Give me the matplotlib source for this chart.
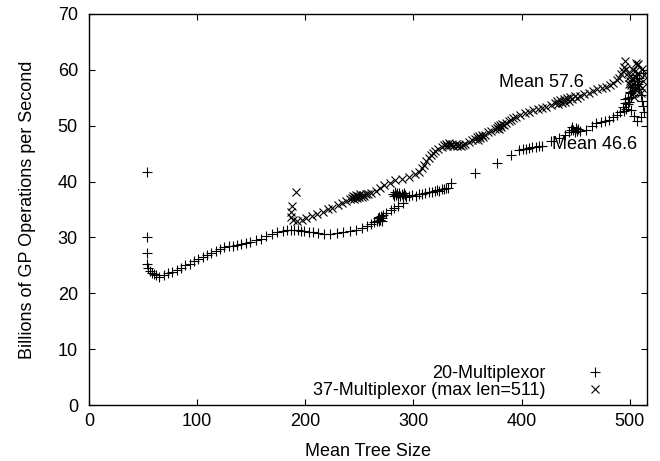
import matplotlib
matplotlib.use("Agg")
import matplotlib.pyplot as plt

plt.rcParams['font.family'] = ['Liberation Sans', 'DejaVu Sans']

# 20-Multiplexor (+) : (mean tree size, billions GP ops/s)
mux20_pts = [
    (54, 41.8), (54, 30.0), (54, 27.3), (54, 25.3), (55, 24.5), (56, 24.0),
    (58, 23.7), (60, 23.5), (62, 23.2), (65, 23.0), (69, 23.2), (73, 23.6),
    (77, 23.9), (81, 24.2), (85, 24.6), (89, 25.0), (93, 25.3), (97, 25.7),
    (101, 26.1), (105, 26.5), (109, 26.9), (113, 27.3), (117, 27.6), (121, 27.9),
    (125, 28.2), (129, 28.4), (133, 28.5), (137, 28.7), (141, 28.9), (145, 29.0),
    (149, 29.2), (154, 29.5), (159, 29.8), (164, 30.2), (169, 30.6), (174, 31.0),
    (179, 31.2), (183, 31.4), (187, 31.4), (190, 31.4), (193, 31.3), (196, 31.2),
    (199, 31.1), (203, 31.0), (207, 30.9), (212, 30.8), (217, 30.7), (223, 30.7),
    (229, 30.8), (235, 31.0), (241, 31.2), (247, 31.4), (252, 31.7), (257, 32.0),
    (261, 32.4), (264, 32.8), (266, 33.0), (267, 33.4), (268, 32.9), (268.5, 33.6),
    (269, 33.2), (270, 33.8), (270.5, 33.0), (271, 33.5), (272, 34.0), (275, 34.4),
    (279, 34.9), (282, 35.3), (286, 35.7), (290, 36.2),
    (281, 37.8), (282, 37.4), (283, 38.2), (284, 37.6), (285, 38.0), (286, 37.5),
    (287, 37.9), (288, 37.4), (289, 37.8), (290, 37.5), (291, 37.9), (292, 37.6),
    (293, 37.3), (296, 37.4), (299, 37.6), (302, 37.5), (305, 37.8), (308, 37.7),
    (311, 38.0), (314, 38.1), (317, 38.2), (320, 38.3), (322, 38.5), (324, 38.4),
    (326, 38.6), (328, 38.7), (330, 38.8), (332, 38.9), (335, 39.8),
    (357, 41.6), (377, 43.4), (390, 44.8), (398, 45.6), (401, 45.8), (404, 45.9),
    (407, 46.0), (410, 46.1), (413, 46.2), (416, 46.3), (419, 46.4), (427, 47.2),
    (435, 47.8), (440, 48.3), (444, 48.8), (446, 49.3), (447, 49.8), (448, 49.2),
    (449, 48.9), (450, 49.6), (451, 49.1), (452, 49.4), (454, 49.0), (460, 49.3),
    (465, 49.9), (469, 50.5), (473, 50.7), (477, 50.9), (481, 51.1), (485, 51.5),
    (488, 51.9), (491, 52.4), (494, 53.3), (495, 52.6), (496, 54.0), (497, 53.0),
    (498, 55.0), (499, 54.2), (500, 56.0), (501, 55.2), (502, 57.0), (503, 56.3),
    (504, 58.0), (505, 57.2), (506, 59.0), (507, 58.0), (508, 57.5), (509, 56.5),
    (510, 55.5), (511, 54.5), (512, 53.5), (513, 52.5), (510, 51.5), (507, 50.8),
    (504, 51.8), (501, 52.8), (498, 53.8), (496, 54.8), (500, 55.8), (505, 56.8),
    (509, 58.5), (512, 59.5),
]

# 37-Multiplexor (max len=511) (x)
mux37_pts = [
    (191, 38.2), (188, 35.7), (187, 34.6), (187, 33.6), (189, 33.1), (192, 32.9),
    (197, 33.2), (201, 33.5), (206, 33.8), (211, 34.2), (216, 34.6), (221, 35.0),
    (225, 35.3), (230, 35.8), (234, 36.2), (238, 36.5), (241, 36.8), (243, 37.0),
    (244, 37.4), (245, 36.9), (246, 37.3), (247, 37.6), (248, 37.1), (249, 37.5),
    (250, 37.2), (251, 37.7), (252, 37.3), (253, 37.6), (254, 37.4), (256, 37.7),
    (258, 37.8), (261, 38.0), (265, 38.4), (269, 38.8), (273, 39.3), (278, 39.8),
    (283, 40.2), (289, 40.5), (296, 40.9), (301, 41.3), (305, 41.8), (308, 42.4),
    (310, 43.0), (312, 43.6), (314, 44.2), (316, 44.7), (318, 45.1), (320, 45.4),
    (323, 45.8), (326, 46.2), (328, 46.5), (330, 46.8), (331, 46.4), (333, 46.9),
    (334, 46.5), (336, 46.8), (337, 46.4), (339, 46.7), (340, 46.3), (342, 46.6),
    (344, 46.4), (346, 46.6), (348, 46.8), (351, 47.1), (354, 47.4), (357, 47.6),
    (359, 47.9), (360, 47.5), (361, 48.2), (362, 47.8), (363, 48.3), (364, 48.0),
    (366, 48.4), (369, 48.8), (372, 49.1), (375, 49.4), (377, 49.6), (378, 49.9),
    (379, 49.5), (380, 50.1), (381, 49.8), (382, 50.3), (384, 50.1), (386, 50.5),
    (388, 50.8), (390, 51.0), (392, 51.3), (395, 51.6), (399, 51.9), (403, 52.2),
    (407, 52.5), (411, 52.8), (415, 53.0), (419, 53.2), (423, 53.4), (427, 53.7),
    (431, 54.0), (433, 54.4), (434, 53.9), (436, 54.6), (437, 54.1), (439, 54.8),
    (440, 54.3), (442, 55.0), (444, 54.5), (445, 55.2), (447, 54.7), (449, 55.3),
    (451, 55.0), (454, 55.4), (458, 55.6), (462, 55.9), (466, 56.2), (470, 56.5),
    (474, 56.8), (478, 57.0), (482, 57.3), (485, 57.7), (488, 58.2), (490, 58.6),
    (492, 59.2), (494, 59.8), (495, 60.6), (496, 61.5), (497, 60.2), (498, 59.4),
    (499, 58.7), (500, 58.0), (501, 57.3), (502, 56.6), (503, 55.9), (504, 55.2),
    (505, 56.5), (506, 58.8), (507, 60.8), (508, 59.5), (509, 57.5), (510, 55.8),
    (511, 56.8), (512, 58.0), (513, 59.0), (511, 60.2), (508, 61.0), (505, 59.8),
    (502, 58.6), (499, 57.4), (503, 60.0), (506, 61.2),
]

labels = ["20-Multiplexor", "37-Multiplexor (max len=511)"]
notes = [("Mean 57.6", 379, 57.7), ("Mean 46.6", 428, 46.6)]

mux20_x = [p[0] for p in mux20_pts]
mux20_y = [p[1] for p in mux20_pts]
mux37_x = [p[0] for p in mux37_pts]
mux37_y = [p[1] for p in mux37_pts]

W, H = 660, 461
L, R, T, B = 89, 647, 14, 405
FS = 13

fig = plt.figure(figsize=(W / 100, H / 100), dpi=100)
ax = fig.add_axes([L / W, 1 - B / H, (R - L) / W, (B - T) / H])

ax.plot(mux20_x, mux20_y, linestyle='none', marker='+', ms=6.8, mew=0.8,
        color='black', label=labels[0])
ax.plot(mux37_x, mux37_y, linestyle='none', marker='x', ms=6.2, mew=0.8,
        color='black', label=labels[1])

for t, x, y in notes:
    ax.text(x, y, t, fontsize=FS, ha='left', va='center')

ax.set_xlim(0, 516)
ax.set_ylim(0, 70)
ax.set_xticks([0, 100, 200, 300, 400, 500])
ax.set_yticks(range(0, 71, 10))
ax.tick_params(direction='in', top=True, right=True, length=4.5, labelsize=FS,
               width=0.8)
ax.tick_params(axis='x', pad=6)
ax.tick_params(axis='y', pad=8)
for s in ax.spines.values():
    s.set_linewidth(1.0)

fig.text((L + R) / 2 / W, 1 - 451 / H, "Mean Tree Size", fontsize=FS,
         ha='center', va='center')
fig.text(28 / W, 1 - (T + B) / 2 / H, "Billions of GP Operations per Second",
         fontsize=FS, ha='center', va='center', rotation=90)

ax.legend(loc='lower right', bbox_to_anchor=(635 / W, 1 - 399 / H),
          bbox_transform=fig.transFigure, frameon=False, markerfirst=False,
          fontsize=FS, handlelength=4.4, handletextpad=0.55, borderaxespad=0,
          borderpad=0, labelspacing=0.0)

fig.savefig("out.png", dpi=100)
